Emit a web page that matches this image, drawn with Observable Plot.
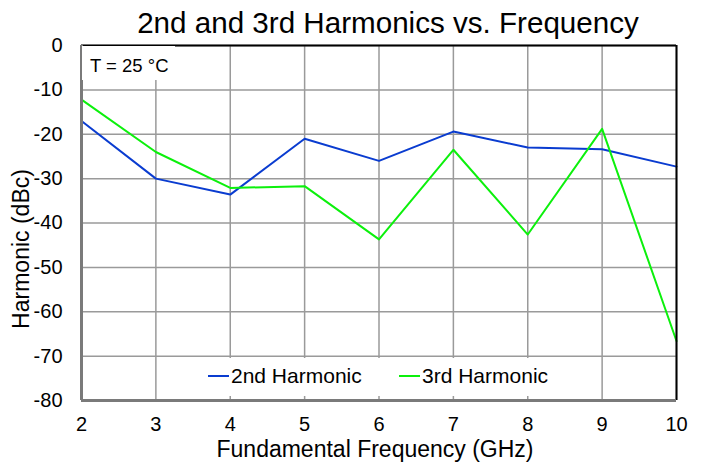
<!DOCTYPE html>
<html><head><meta charset="utf-8">
<script src="https://cdn.jsdelivr.net/npm/d3@7"></script>
<script src="https://cdn.jsdelivr.net/npm/@observablehq/plot@0.6"></script>
<style>
body{margin:0;background:#fff;font-family:"Liberation Sans",Arial,sans-serif;}
#wrap{position:relative;width:702px;height:464px;overflow:hidden;}
#wrap svg{position:absolute;left:0;top:0;}
#title{position:absolute;left:37px;top:8px;width:702px;text-align:center;font-size:29.6px;line-height:29.6px;color:#000;white-space:nowrap;}
#note{position:absolute;left:82px;top:46px;width:93px;height:34px;background:#fff;box-sizing:border-box;padding:11px 0 0 8px;font-size:18.5px;line-height:18px;white-space:nowrap;}
#legend{position:absolute;left:195px;top:358px;width:375px;height:38px;background:#fff;}
.item{position:absolute;top:7px;display:flex;align-items:center;font-size:21px;line-height:21px;white-space:nowrap;}
.sw{width:21px;height:2px;margin-right:2px;}
</style></head><body><div id="wrap"></div>
<script>
const freqs = [2, 3, 4, 5, 6, 7, 8, 9, 10];
const harm2 = [-17, -30, -33.6, -21, -26, -19.4, -23, -23.4, -27.3];
const harm3 = [-12.2, -24, -32.1, -31.7, -43.7, -23.5, -42.6, -18.8, -66.6];
const seriesNames = ["2nd Harmonic", "3rd Harmonic"];
const seriesColors = ["#0a3cd0", "#0cf00c"];
const xTicks = [2, 3, 4, 5, 6, 7, 8, 9, 10];
const yTicks = [0, -10, -20, -30, -40, -50, -60, -70, -80];
const xDomain = [2, 10];
const yDomain = [-80, 0];
const titleText = "2nd and 3rd Harmonics vs. Frequency";
const xLabel = "Fundamental Frequency (GHz)";
const yLabel = "Harmonic (dBc)";
const noteText = "T = 25 °C";

const series = [harm2, harm3];
const data = [];
series.forEach((vals, si) => vals.forEach((v, i) => data.push({f: freqs[i], v, s: seriesNames[si]})));

const chart = Plot.plot({
  width: 702, height: 464,
  marginTop: 45, marginBottom: 64, marginLeft: 81, marginRight: 26,
  style: {fontFamily: '"Liberation Sans", Arial, sans-serif', fontSize: "20px", color: "#000", background: "transparent"},
  x: {domain: xDomain},
  y: {domain: yDomain},
  color: {domain: seriesNames, range: seriesColors},
  marks: [
    Plot.gridX(xTicks, {stroke: "#9a9a9a", strokeOpacity: 1, strokeWidth: 1.5}),
    Plot.gridY(yTicks, {stroke: "#9a9a9a", strokeOpacity: 1, strokeWidth: 1.5}),
    Plot.line(data, {x: "f", y: "v", z: "s", stroke: "s", strokeWidth: 2}),
    Plot.ruleY([yDomain[1]], {stroke: "#000", strokeWidth: 2}),
    Plot.ruleX([xDomain[1]], {stroke: "#000", strokeWidth: 2}),
    Plot.ruleX([xDomain[0]], {stroke: "#7a7a7a", strokeWidth: 3}),
    Plot.ruleY([yDomain[0]], {stroke: "#7a7a7a", strokeWidth: 3}),
    Plot.axisX(xTicks, {tickSize: 0, tickPadding: 16, label: null, tickFormat: d => `${d}`}),
    Plot.axisY(yTicks, {tickSize: 0, tickPadding: 19, label: null, tickFormat: d => `${d}`}),
    Plot.text([xLabel], {frameAnchor: "bottom", lineAnchor: "middle", textAnchor: "middle", dy: 49, dx: -4, fontSize: 23}),
    Plot.text([yLabel], {frameAnchor: "left", lineAnchor: "middle", textAnchor: "middle", rotate: -90, dx: -60, dy: 26, fontSize: 23})
  ]
});

const wrap = document.getElementById("wrap");
wrap.appendChild(chart);

const t = document.createElement("div");
t.id = "title"; t.textContent = titleText; wrap.appendChild(t);

const n = document.createElement("div");
n.id = "note"; n.textContent = noteText; wrap.appendChild(n);

const lg = document.createElement("div");
lg.id = "legend";
const itemLeft = [13, 204];
seriesNames.forEach((name, i) => {
  const it = document.createElement("div");
  it.className = "item";
  it.style.left = itemLeft[i] + "px";
  const sw = document.createElement("span");
  sw.className = "sw"; sw.style.background = seriesColors[i];
  const tx = document.createElement("span");
  tx.textContent = name;
  it.appendChild(sw); it.appendChild(tx);
  lg.appendChild(it);
});
wrap.appendChild(lg);
</script>
</body></html>
